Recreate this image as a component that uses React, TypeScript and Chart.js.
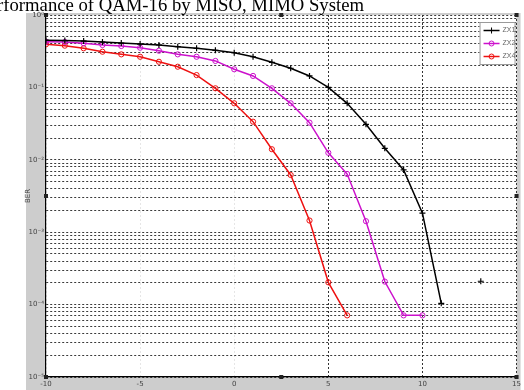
import { useEffect, useRef } from 'react';
import { Chart, registerables } from 'chart.js';

Chart.register(...registerables);

const titleText = 'Performance of QAM-16 by MISO, MIMO System';
const yAxisLabel = 'BER';

const snrDb = [-10, -9, -8, -7, -6, -5, -4, -3, -2, -1, 0, 1, 2, 3, 4, 5, 6, 7, 8, 9, 10, 11];

const zx1 = [0.447, 0.444, 0.437, 0.424, 0.41, 0.397, 0.385, 0.365, 0.347, 0.325, 0.301, 0.265, 0.222, 0.184, 0.144, 0.1, 0.0603, 0.0309, 0.0144, 0.00724, 0.00183, 1.04e-4];
const zx2 = [0.428, 0.424, 0.407, 0.385, 0.373, 0.353, 0.321, 0.286, 0.265, 0.232, 0.178, 0.144, 0.0972, 0.0603, 0.0326, 0.0125, 0.00636, 0.00142, 2.08e-4, 7.1e-5, 7.1e-5];
const zx4 = [0.394, 0.377, 0.347, 0.311, 0.286, 0.265, 0.226, 0.193, 0.148, 0.0972, 0.0603, 0.0336, 0.014, 0.00617, 0.00145, 2.03e-4, 7.1e-5];

const strayX = [13.1];
const strayY = [2.1e-4];

const xTicks = [-10, -5, 0, 5, 10, 15];
const yDecades = [-5, -4, -3, -2, -1, 0];

const sup: Record<string, string> = { '0': '⁰', '1': '¹', '2': '²', '3': '³', '4': '⁴', '5': '⁵', '6': '⁶', '7': '⁷', '8': '⁸', '9': '⁹', '-': '⁻' };
const toSup = (s: string) => s.split('').map((c) => sup[c] ?? c).join('');

const pts = (xs: number[], ys: number[]) => ys.map((y, i) => ({ x: xs[i], y }));

const framePlugin = {
  id: 'frame',
  beforeDraw(chart: any) {
    const { ctx, chartArea: a, width, height } = chart;
    ctx.save();
    ctx.fillStyle = '#ffffff';
    ctx.fillRect(0, 0, width, height);
    ctx.fillStyle = '#cdcdcd';
    ctx.fillRect(a.left - 20, a.top - 2, a.right - a.left + 24, height - a.top + 2);
    ctx.fillStyle = '#ffffff';
    ctx.fillRect(a.left, a.top, a.right - a.left, a.bottom - a.top);
    ctx.restore();
  },
  afterDraw(chart: any) {
    const { ctx, chartArea: a } = chart;
    ctx.save();
    ctx.fillStyle = '#000';
    ctx.font = '18.7px "Liberation Serif", serif';
    ctx.textAlign = 'right';
    ctx.textBaseline = 'alphabetic';
    ctx.fillText(titleText, 364, a.top - 4);
    const mx = (a.left + a.right) / 2;
    const my = (a.top + a.bottom) / 2;
    const hs = [
      [a.left, a.top], [mx, a.top], [a.right, a.top],
      [a.left, my], [a.right, my],
      [a.left, a.bottom], [mx, a.bottom], [a.right, a.bottom],
    ];
    ctx.fillStyle = '#222';
    hs.forEach(([x, y]) => ctx.fillRect(x - 2, y - 2, 4, 4));
    ctx.restore();
  },
};

const legendPlugin = {
  id: 'boxLegend',
  afterDatasetsDraw(chart: any) {
    const { ctx, chartArea: a } = chart;
    const items = chart.data.datasets.filter((d: any) => d.label && d.label.startsWith('ZX'));
    const w = 35;
    const h = 42;
    const x0 = a.right - 2 - w;
    const y0 = a.top + 7;
    ctx.save();
    ctx.fillStyle = '#ffffff';
    ctx.fillRect(x0, y0, w, h);
    ctx.strokeStyle = '#9a9a9a';
    ctx.lineWidth = 1;
    ctx.strokeRect(x0 + 0.5, y0 + 0.5, w, h);
    items.forEach((d: any, i: number) => {
      const y = y0 + 8.5 + i * 13;
      ctx.strokeStyle = d.borderColor;
      ctx.lineWidth = 1.5;
      ctx.beginPath();
      ctx.moveTo(x0 + 4, y);
      ctx.lineTo(x0 + 20, y);
      ctx.stroke();
      const cx = x0 + 12;
      ctx.lineWidth = 1;
      if (d.pointStyle === 'cross') {
        ctx.beginPath();
        ctx.moveTo(cx - 3, y);
        ctx.lineTo(cx + 3, y);
        ctx.moveTo(cx, y - 3);
        ctx.lineTo(cx, y + 3);
        ctx.stroke();
      } else {
        ctx.beginPath();
        ctx.arc(cx, y, 2.5, 0, Math.PI * 2);
        ctx.stroke();
      }
      ctx.fillStyle = '#666';
      ctx.font = '7px "Liberation Sans", sans-serif';
      ctx.textAlign = 'left';
      ctx.textBaseline = 'middle';
      ctx.fillText(d.label, x0 + 23, y);
    });
    ctx.restore();
  },
};

export default function App() {
  const ref = useRef<HTMLCanvasElement | null>(null);

  useEffect(() => {
    if (!ref.current) return;
    const chart = new Chart(ref.current, {
      type: 'line',
      data: {
        datasets: [
          {
            label: 'ZX1',
            data: pts(snrDb, zx1),
            borderColor: '#000000',
            backgroundColor: '#000000',
            borderWidth: 1.5,
            pointStyle: 'cross',
            pointRadius: 3,
            pointBorderWidth: 1.2,
            tension: 0,
          },
          {
            label: 'ZX2',
            data: pts(snrDb, zx2),
            borderColor: '#cc11cc',
            backgroundColor: 'rgba(0,0,0,0)',
            borderWidth: 1.5,
            pointStyle: 'circle',
            pointRadius: 2.6,
            pointBorderWidth: 1,
            tension: 0,
          },
          {
            label: 'ZX4',
            data: pts(snrDb, zx4),
            borderColor: '#ee1111',
            backgroundColor: 'rgba(0,0,0,0)',
            borderWidth: 1.5,
            pointStyle: 'circle',
            pointRadius: 2.6,
            pointBorderWidth: 1,
            tension: 0,
          },
          {
            label: 'stray',
            data: pts(strayX, strayY),
            borderColor: '#000000',
            backgroundColor: '#000000',
            showLine: false,
            pointStyle: 'cross',
            pointRadius: 3,
            pointBorderWidth: 1.2,
          },
        ],
      },
      options: {
        responsive: false,
        animation: false,
        devicePixelRatio: 1,
        layout: { padding: { left: 0, top: 15, right: 7, bottom: 0 } },
        plugins: {
          legend: { display: false },
          title: { display: false },
          tooltip: { enabled: false },
        },
        scales: {
          x: {
            type: 'linear',
            min: -10,
            max: 15,
            afterBuildTicks: (scale: any) => {
              scale.ticks = xTicks.map((v) => ({ value: v }));
            },
            afterFit: (scale: any) => {
              scale.height = 13;
            },
            ticks: {
              padding: 3,
              color: '#444',
              font: { family: 'DejaVu Sans', size: 7 },
              maxRotation: 0,
              autoSkip: false,
              callback: (v: any) => String(v),
            },
            grid: {
              drawTicks: false,
              lineWidth: 1,
              color: (c: any) => (c.tick && c.tick.value < 5 ? '#e6e6e6' : '#333333'),
            },
            border: { display: true, color: '#000', width: 1.2, dash: [2, 2] },
          },
          y: {
            type: 'logarithmic',
            min: 1e-5,
            max: 1,
            afterBuildTicks: (scale: any) => {
              const t: any[] = [];
              yDecades.forEach((e) => {
                if (e === 0) {
                  t.push({ value: 1, major: true });
                  return;
                }
                for (let k = 1; k <= 9; k++) t.push({ value: k * Math.pow(10, e), major: k === 1 });
              });
              scale.ticks = t;
            },
            afterFit: (scale: any) => {
              scale.width = 46;
            },
            ticks: {
              padding: 2,
              color: '#444',
              font: { family: 'DejaVu Sans', size: 7 },
              autoSkip: false,
              callback: (v: any) => {
                const e = Math.log10(Number(v));
                if (Math.abs(e - Math.round(e)) < 1e-9) return '10' + toSup(String(Math.round(e)));
                return '';
              },
            },
            grid: {
              drawTicks: false,
              lineWidth: 1,
              color: '#3a3a3a',
            },
            border: { display: true, color: '#000', width: 1.2, dash: [2, 2] },
            title: {
              display: true,
              text: yAxisLabel,
              color: '#444',
              font: { family: 'DejaVu Sans', size: 7 },
              padding: { top: 24, bottom: 0 },
            },
          },
        },
      },
      plugins: [framePlugin, legendPlugin],
    } as any);
    return () => chart.destroy();
  }, []);

  return (
    <div style={{ position: 'fixed', left: 0, top: 0, width: 524, height: 390 }}>
      <canvas ref={ref} width={524} height={390} style={{ display: 'block' }} />
    </div>
  );
}
